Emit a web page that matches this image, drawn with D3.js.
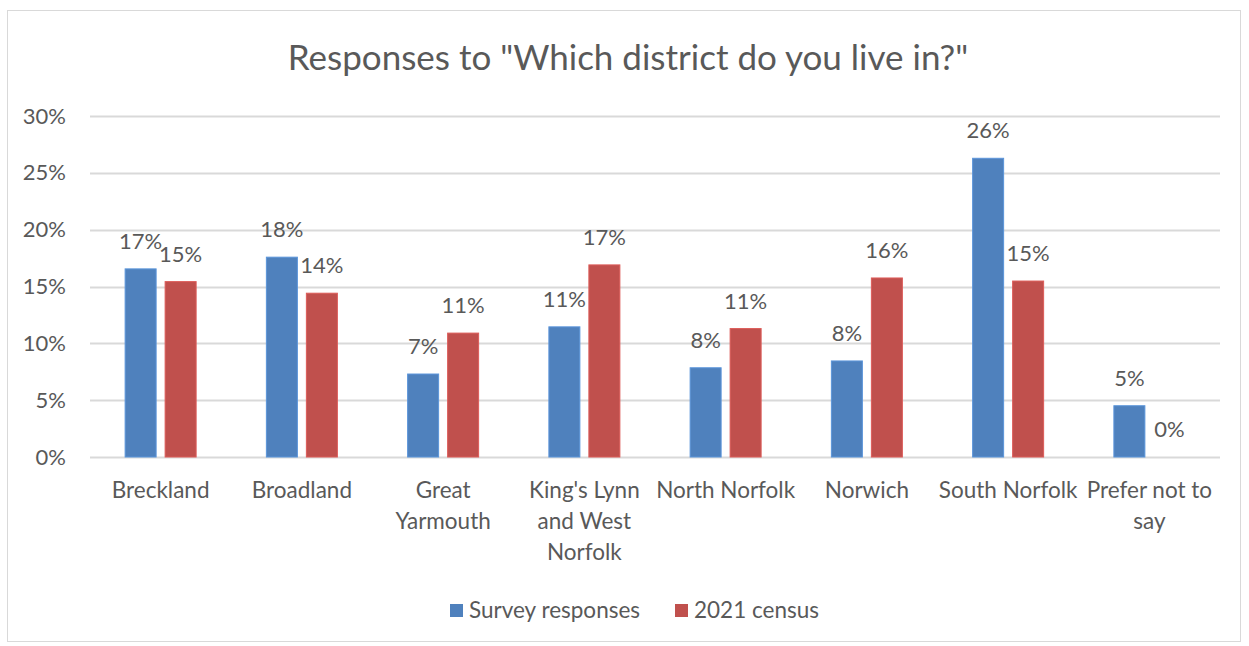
<!DOCTYPE html>
<html>
<head>
<meta charset="utf-8">
<script src="https://cdn.jsdelivr.net/npm/d3@7"></script>
<style>
  html, body { margin: 0; padding: 0; background: #fff; }
  svg { display: block; }
  text { font-family: Lato, "Open Sans", sans-serif; fill: #595959; }
</style>
</head>
<body>
<svg id="chart" width="1249" height="646"></svg>
<script>
// District shares: survey responses vs 2021 census
const districts = [
  "Breckland", "Broadland", "Great Yarmouth", "King's Lynn and West Norfolk",
  "North Norfolk", "Norwich", "South Norfolk", "Prefer not to say"
];
const districtLines = [
  ["Breckland"], ["Broadland"], ["Great", "Yarmouth"], ["King's Lynn", "and West", "Norfolk"],
  ["North Norfolk"], ["Norwich"], ["South Norfolk"], ["Prefer not to", "say"]
];
const surveyResponses = [0.1655, 0.1758, 0.0730, 0.1145, 0.0785, 0.0845, 0.2628, 0.0451];
const census2021      = [0.1543, 0.1441, 0.1090, 0.1690, 0.1130, 0.1575, 0.1548, 0.0000];
const seriesNames = ["Survey responses", "2021 census"];
const seriesColors = ["#4f81bd", "#c0504d"];
const yTicks = [0, 0.05, 0.10, 0.15, 0.20, 0.25, 0.30];

const svg = d3.select("#chart");
const plot = { left: 90, right: 1220, top: 116, bottom: 457 };

// chart frame
svg.append("rect")
  .attr("x", 7.5).attr("y", 10.5).attr("width", 1233).attr("height", 631)
  .attr("fill", "#fff").attr("stroke", "#d9d9d9").attr("stroke-width", 1);

// title
svg.append("text")
  .attr("x", 628).attr("y", 70)
  .attr("text-anchor", "middle")
  .style("font-size", "35px").style("font-weight", 400)
  .text('Responses to "Which district do you live in?"');

const x = d3.scaleBand().domain(districts).range([plot.left, plot.right]).padding(0);
const y = d3.scaleLinear().domain([0, 0.30]).range([plot.bottom, plot.top]);

// gridlines
svg.append("g").selectAll("line").data(yTicks).join("line")
  .attr("x1", plot.left).attr("x2", plot.right)
  .attr("y1", d => Math.round(y(d)) + 0.5).attr("y2", d => Math.round(y(d)) + 0.5)
  .attr("stroke", "#d9d9d9").attr("stroke-width", 2);

// y axis labels
const yAxis = d3.axisLeft(y).tickValues(yTicks).tickFormat(d3.format(".0%")).tickSize(0).tickPadding(24);
const gy = svg.append("g").attr("transform", `translate(${plot.left},0)`).call(yAxis);
gy.select(".domain").remove();
gy.selectAll("text").style("font-size", "22px").attr("fill", "#595959").attr("font-family", null);

// grouped bars with value labels
const barW = 31, gap = 9;
const offsets = [-(barW + gap) / 2, (barW + gap) / 2];
const series = [surveyResponses, census2021];
const fmt = d3.format(".0%");

series.forEach((vals, si) => {
  const g = svg.append("g");
  g.selectAll("rect").data(vals).join("rect")
    .attr("x", (d, i) => x(districts[i]) + x.bandwidth() / 2 + offsets[si] - barW / 2)
    .attr("y", d => y(d))
    .attr("width", barW)
    .attr("height", d => y(0) - y(d))
    .attr("fill", seriesColors[si])
    .attr("stroke", d3.color(seriesColors[si]).brighter(0.4))
    .attr("stroke-width", 1);
  g.selectAll("text").data(vals).join("text")
    .attr("x", (d, i) => x(districts[i]) + x.bandwidth() / 2 + offsets[si])
    .attr("y", d => y(d) - 20)
    .attr("text-anchor", "middle")
    .style("font-size", "22px")
    .text(d => fmt(d));
});

// category labels
const gx = svg.append("g");
districtLines.forEach((lines, i) => {
  const cx = x(districts[i]) + x.bandwidth() / 2;
  const t = gx.append("text")
    .attr("x", cx)
    .attr("y", 498)
    .attr("text-anchor", "middle")
    .style("font-size", "22.5px");
  lines.forEach((ln, j) => {
    t.append("tspan")
      .attr("x", cx)
      .attr("dy", j === 0 ? 0 : 31)
      .text(ln);
  });
});

// legend
const legend = svg.append("g");
const legendX = [450, 675];
seriesNames.forEach((name, i) => {
  legend.append("rect")
    .attr("x", legendX[i]).attr("y", 604)
    .attr("width", 13).attr("height", 13)
    .attr("fill", seriesColors[i]);
  legend.append("text")
    .attr("x", legendX[i] + 19).attr("y", 618)
    .style("font-size", "22.5px")
    .text(name);
});
</script>
</body>
</html>
